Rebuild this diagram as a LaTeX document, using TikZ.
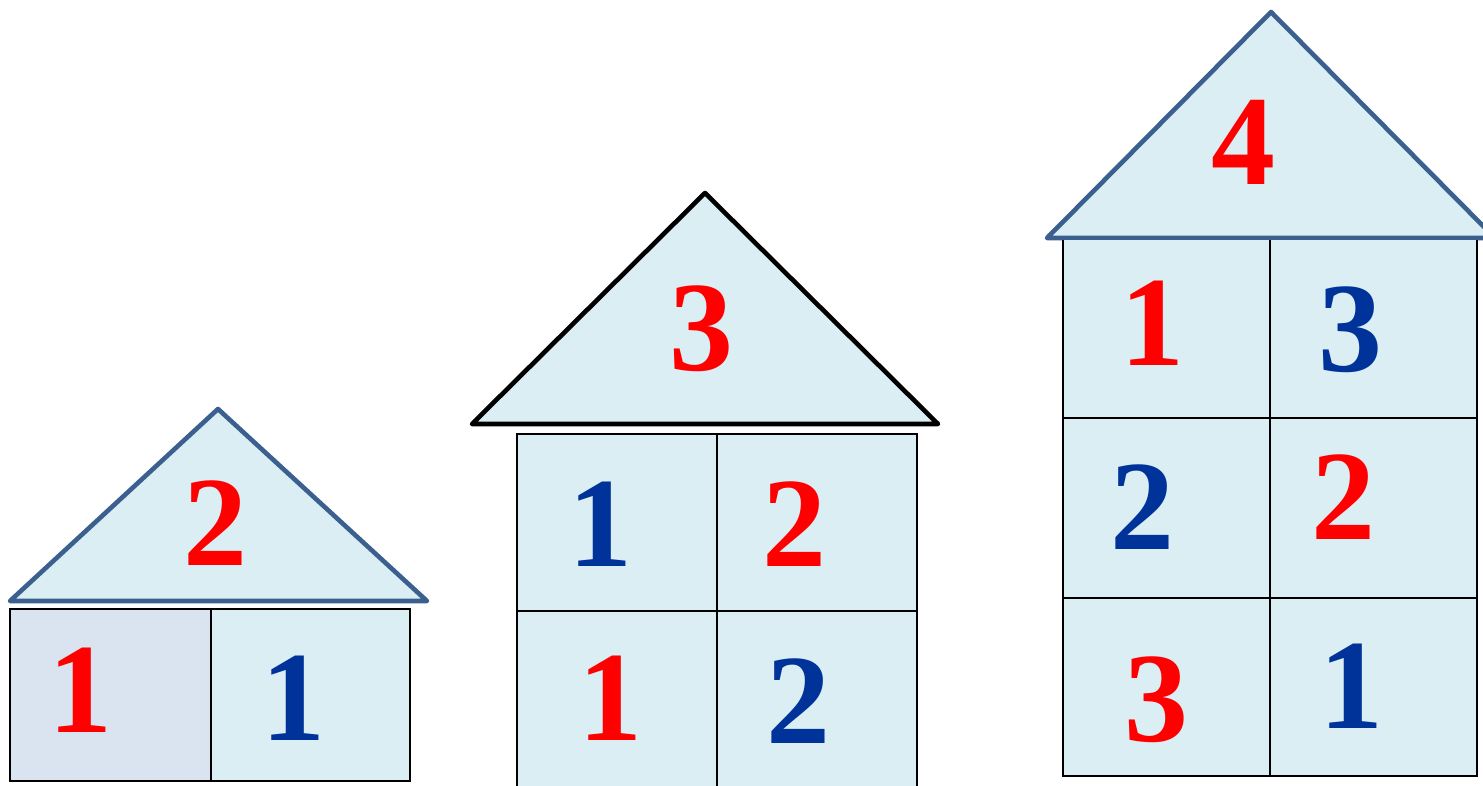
\documentclass[tikz,border=0pt]{standalone}
\usepackage{fontspec}
\setmainfont{Liberation Serif}
\definecolor{cellfill}{HTML}{DAEEF3}
\definecolor{cellfillB}{HTML}{DAE3F0}
\definecolor{roofblue}{HTML}{3B5F8E}
\definecolor{numred}{HTML}{FF0000}
\definecolor{numblue}{HTML}{003399}
\begin{document}
\begin{tikzpicture}[x=1pt,y=-1pt,
  roof/.style={fill=cellfill,line width=4.6pt,line join=round,line cap=round},
  cell/.style={draw=black,line width=2.2pt},
  digit/.style={anchor=base,inner sep=0pt,font=\fontsize{128}{128}\selectfont\bfseries},
  rd/.style={digit,text=numred},
  bd/.style={digit,text=numblue}]
\useasboundingbox (0,0) rectangle (1483,786);
\clip (0,0) rectangle (1483,786);
% house 1
\draw[roof,draw=roofblue] (218,409) -- (427,601) -- (10,601) -- cycle;
\fill[cellfillB] (10,609) rectangle (211,781);
\fill[cellfill] (211,609) rectangle (410,781);
\draw[cell] (10,609) rectangle (410,781);
\draw[cell] (211,609) -- (211,781);
\node[rd] (h1r) at (215,565) {2};
\node[rd] (h1a) at (80,732) {1};
\node[bd] (h1b) at (293,740) {1};
% house 2
\draw[roof,draw=black] (705,193) -- (938,424) -- (472,424) -- cycle;
\fill[cellfill] (517,434) rectangle (917,800);
\draw[cell] (517,800) -- (517,434) -- (917,434) -- (917,800);
\draw[cell] (517,611) -- (917,611);
\draw[cell] (717,434) -- (717,800);
\node[rd] (h2r) at (701,370) {3};
\node[bd] (h2a) at (600,566) {1};
\node[rd] (h2b) at (794,566) {2};
\node[rd] (h2c) at (610,740) {1};
\node[bd] (h2d) at (798,743) {2};
% house 3
\draw[roof,draw=roofblue] (1271,12) -- (1495,238) -- (1047,238) -- cycle;
\fill[cellfill] (1063,240) rectangle (1477,776);
\draw[cell] (1063,240) -- (1063,776) -- (1477,776) -- (1477,240);
\draw[cell] (1063,418) -- (1477,418);
\draw[cell] (1063,598) -- (1477,598);
\draw[cell] (1270,240) -- (1270,776);
\draw[roofblue,line width=4.6pt] (1047,238) -- (1495,238);
\node[rd] (h3r) at (1243,185) {4};
\node[rd] (h3a) at (1152,365) {1};
\node[bd] (h3b) at (1350,371) {3};
\node[bd] (h3c) at (1142,549) {2};
\node[rd] (h3d) at (1343,539) {2};
\node[rd] (h3e) at (1156,741) {3};
\node[bd] (h3f) at (1351,728) {1};
\end{tikzpicture}
\end{document}
